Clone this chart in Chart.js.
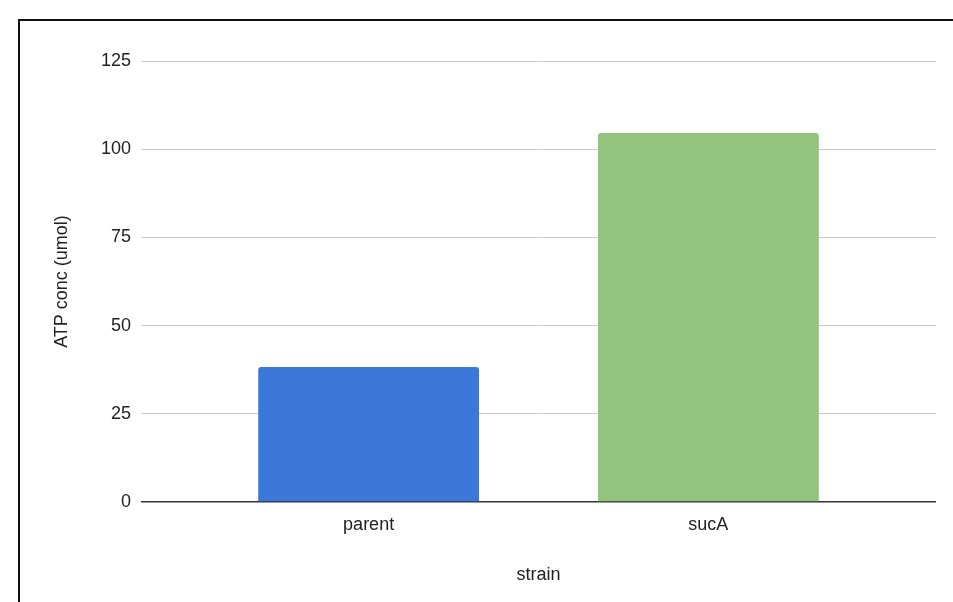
<!DOCTYPE html>
<html>
<head>
<meta charset="utf-8">
<script src="https://cdn.jsdelivr.net/npm/chart.js@4"></script>
<style>
  html, body { margin: 0; padding: 0; background: #fff; overflow: hidden; }
  #wrap { position: absolute; left: 0; top: 0; width: 953px; height: 602px; }
  #frame { position: absolute; left: 18px; top: 19px; width: 960px; height: 600px;
           border-left: 2px solid #111; border-top: 2px solid #111; }
</style>
</head>
<body>
<div id="wrap">
  <div id="frame"></div>
  <canvas id="chart" width="953" height="602"></canvas>
</div>
<script>
// data
var strains = ["parent", "sucA"];
var atpConc = [38.3, 104.6];
var barColors = ["#3c78d8", "#93c47d"];
var yTicks = [0, 25, 50, 75, 100, 125];

Chart.defaults.font.family = "'Liberation Sans', Arial, sans-serif";
Chart.defaults.font.size = 18;
Chart.defaults.color = "#222";

new Chart(document.getElementById("chart"), {
  type: 'bar',
  data: {
    datasets: [{
      label: "ATP conc (umol)",
      data: strains.map(function(s, i) { return { x: i + 1, y: atpConc[i] }; }),
      backgroundColor: barColors,
      borderRadius: { topLeft: 3, topRight: 3 },
      borderSkipped: 'bottom',
      barPercentage: 0.65,
      categoryPercentage: 1
    }]
  },
  options: {
    responsive: false,
    animation: false,
    layout: { padding: { left: 18, top: 61, right: 17, bottom: 0 } },
    plugins: { legend: { display: false }, tooltip: { enabled: false } },
    scales: {
      x: {
        type: 'linear',
        offset: false,
        min: 0.33,
        max: 2.67,
        afterBuildTicks: function(s) {
          s.ticks = strains.map(function(c, i) { return { value: i + 1 }; });
        },
        afterFit: function(s) { s.height = 100; },
        ticks: {
          padding: 12,
          callback: function(v) { return strains[v - 1]; }
        },
        grid: { display: false, drawTicks: false, offset: false },
        border: { display: false },
        title: { display: true, text: "strain", padding: { top: 0, bottom: 16 } }
      },
      y: {
        min: 0,
        max: 125,
        afterBuildTicks: function(s) {
          s.ticks = yTicks.map(function(v) { return { value: v }; });
        },
        afterFit: function(s) { s.width = 123; },
        ticks: { padding: 10 },
        grid: {
          drawTicks: false,
          color: function(c) { return c.tick && c.tick.value === 0 ? '#333' : '#ccc'; },
          lineWidth: function(c) { return c.tick && c.tick.value === 0 ? 1.5 : 1; }
        },
        border: { display: false },
        title: { display: true, text: "ATP conc (umol)", padding: { top: 33, bottom: 0 } }
      }
    }
  }
});
</script>
</body>
</html>
